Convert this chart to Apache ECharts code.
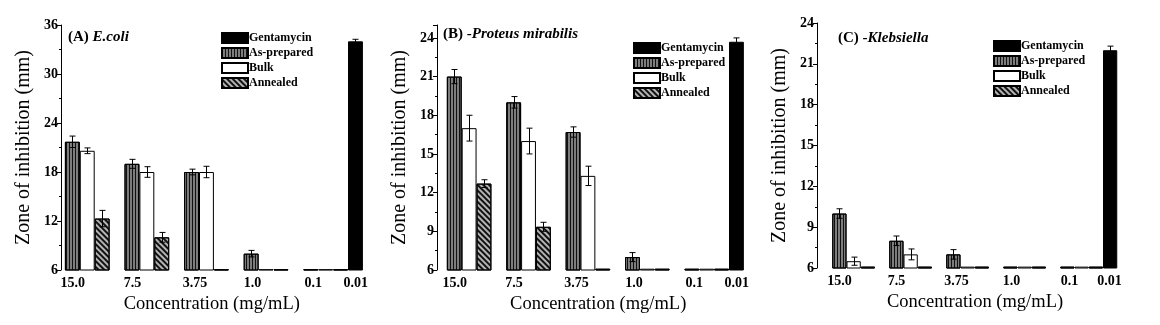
<!DOCTYPE html>
<html>
<head>
<meta charset="utf-8">
<script src="https://cdn.jsdelivr.net/npm/echarts@6/dist/echarts.min.js"></script>
<style>
  html, body { margin: 0; padding: 0; background: #fff; }
  #main1 { width: 1160px; height: 325px; }
</style>
</head>
<body>
<div id="main1"></div>
<script>
const categories = ['15.0', '7.5', '3.75', '1.0', '0.1', '0.01'];
const seriesNames = ['Gentamycin', 'As-prepared', 'Bulk', 'Annealed'];

// (A) E.coli
const gentA = [null, null, null, null, null, 34.0];
const asPreparedA = [21.7, 19.0, 18.0, 8.0, 6.1, null];
const bulkA = [20.6, 18.0, 18.0, 6.1, 6.1, null];
const annealedA = [12.3, 10.0, 6.1, 6.1, 6.1, null];
const gentErrA = [0, 0, 0, 0, 0, 0.25];
const asPreparedErrA = [0.7, 0.55, 0.35, 0.4, 0, 0];
const bulkErrA = [0.35, 0.65, 0.7, 0, 0, 0];
const annealedErrA = [1.0, 0.6, 0, 0, 0, 0];

// (B) Proteus mirabilis
const gentB = [null, null, null, null, null, 23.7];
const asPreparedB = [21.0, 19.0, 16.7, 7.0, 6.1, null];
const bulkB = [17.0, 16.0, 13.3, 6.1, 6.1, null];
const annealedB = [12.7, 9.35, 6.1, 6.1, 6.1, null];
const gentErrB = [0, 0, 0, 0, 0, 0.3];
const asPreparedErrB = [0.55, 0.45, 0.4, 0.35, 0, 0];
const bulkErrB = [1.0, 1.0, 0.75, 0, 0, 0];
const annealedErrB = [0.3, 0.35, 0, 0, 0, 0];

// (C) Klebsiella
const gentC = [null, null, null, null, null, 22.0];
const asPreparedC = [10.0, 8.0, 7.0, 6.1, 6.1, null];
const bulkC = [6.5, 7.0, 6.1, 6.1, 6.1, null];
const annealedC = [6.1, 6.1, 6.1, 6.1, 6.1, null];
const gentErrC = [0, 0, 0, 0, 0, 0.3];
const asPreparedErrC = [0.35, 0.35, 0.35, 0, 0, 0];
const bulkErrC = [0.3, 0.4, 0, 0, 0, 0];
const annealedErrC = [0, 0, 0, 0, 0, 0];

// y axis ranges
const yMaxes = [36, 25, 24];
const yIntervals = [6, 3, 3];

const FONT = 'Liberation Serif';

// layout of each panel (px)
const panels = [
    { values: [gentA, asPreparedA, bulkA, annealedA], errs: [gentErrA, asPreparedErrA, bulkErrA, annealedErrA],
      left: 50, top: 25, width: 357.6, axisX: 61, nameShift: 34,
      title: '{n|(A) }{i|E.coli}', titleLeft: 63, titleTop: 25, legendLeft: 216, legendTop: 27 },
    { values: [gentB, asPreparedB, bulkB, annealedB], errs: [gentErrB, asPreparedErrB, bulkErrB, annealedErrB],
      left: 432, top: 25, width: 356.4, axisX: 437, nameShift: 24,
      title: '{n|(B) -}{i|Proteus mirabilis}', titleLeft: 438, titleTop: 22, legendLeft: 628, legendTop: 37 },
    { values: [gentC, asPreparedC, bulkC, annealedC], errs: [gentErrC, asPreparedErrC, bulkErrC, annealedErrC],
      left: 818, top: 23, width: 342, axisX: 817, nameShift: 28,
      title: '{n|(C) -}{i|Klebsiella}', titleLeft: 833, titleTop: 26, legendLeft: 988, legendTop: 35 }
];

// label shifts under the groups (px, negative = left)
const labelShift = [-7, -7, -4, -6, -5, -22];

const barStyles = [
    { color: '#000', borderColor: '#000', borderWidth: 1 },
    { color: '#7d7d7d', borderColor: '#000', borderWidth: 1,
      decal: { symbol: 'rect', symbolSize: 1, color: '#111', dashArrayX: [1, 2], dashArrayY: [4, 0], rotation: 0 } },
    { color: '#fff', borderColor: '#000', borderWidth: 1 },
    { color: '#b4b4b4', borderColor: '#000', borderWidth: 1,
      decal: { symbol: 'rect', symbolSize: 1, color: '#111', dashArrayX: [4, 0], dashArrayY: [1.5, 1.5], rotation: Math.PI / 4 } }
];

function renderErr(params, api) {
    const cat = api.value(0);
    const val = api.value(1);
    const err = api.value(2);
    const slot = api.value(3);
    const band = api.size([1, 0])[0];
    const dx = (slot - 1.5) * band / 4;
    const hi = api.coord([cat, val + err]);
    const lo = api.coord([cat, val - err]);
    const x = Math.round(hi[0] + dx) + 0.5;
    const cap = 3;
    const st = { stroke: '#000', lineWidth: 1 };
    return {
        type: 'group',
        children: [
            { type: 'line', shape: { x1: x, y1: hi[1], x2: x, y2: lo[1] }, style: st },
            { type: 'line', shape: { x1: x - cap, y1: hi[1], x2: x + cap, y2: hi[1] }, style: st },
            { type: 'line', shape: { x1: x - cap, y1: lo[1], x2: x + cap, y2: lo[1] }, style: st }
        ]
    };
}

const richLabels = {};
labelShift.forEach(function (s, i) {
    richLabels['l' + i] = { fontFamily: FONT, fontWeight: 'bold', fontSize: 14, color: '#000', padding: [0, -2 * s, 0, 0] };
});

let optionObj = {
    animation: false,
    backgroundColor: '#fff',
    title: [],
    legend: [],
    grid: [],
    xAxis: [],
    yAxis: [],
    series: []
};

panels.forEach(function (p, k) {
    optionObj.grid.push({ left: p.left, top: p.top, width: p.width, height: 245, outerBoundsMode: 'none', containLabel: false });
    optionObj.title.push({
        left: p.titleLeft, top: p.titleTop, text: p.title,
        textStyle: {
            rich: {
                n: { fontFamily: FONT, fontWeight: 'bold', fontSize: 15, color: '#000' },
                i: { fontFamily: FONT, fontWeight: 'bold', fontStyle: 'italic', fontSize: 15, color: '#000' }
            }
        }
    });
    optionObj.legend.push({
        data: seriesNames, orient: 'vertical', left: p.legendLeft, top: p.legendTop,
        icon: 'rect', itemWidth: 26, itemHeight: 10, itemGap: 3,
        selectedMode: false,
        textStyle: { fontFamily: FONT, fontWeight: 'bold', fontSize: 12, color: '#000', lineHeight: 11, padding: [0, 0, 0, -4] }
    });
    optionObj.xAxis.push({
        type: 'category', gridIndex: k, data: categories,
        axisLine: { show: false }, axisTick: { show: false },
        axisLabel: {
            interval: 0,
            margin: 6,
            formatter: function (v, i) { return '{l' + i + '|' + v + '}'; },
            rich: richLabels
        },
        name: 'Concentration (mg/mL)', nameLocation: 'middle', nameGap: 22,
        nameTextStyle: { fontFamily: FONT, fontSize: 18.5, color: '#000', padding: [0, p.nameShift, 0, 0] }
    });
    optionObj.yAxis.push({
        type: 'value', gridIndex: k, min: 6, max: yMaxes[k], interval: yIntervals[k],
        offset: p.left - p.axisX,
        axisLine: { show: true, lineStyle: { color: '#000', width: 1 } },
        axisTick: { show: true, length: 4, lineStyle: { color: '#000' } },
        minorTick: { show: true, splitNumber: 2, length: 2, lineStyle: { color: '#000' } },
        splitLine: { show: false },
        axisLabel: {
            margin: 3, fontFamily: FONT, fontWeight: 'bold', fontSize: 14, color: '#000',
            formatter: function (v) { return (v - 6) % yIntervals[k] === 0 ? String(v) : ''; }
        },
        name: 'Zone of inhibition (mm)', nameLocation: 'middle', nameGap: 27,
        nameTextStyle: { fontFamily: FONT, fontSize: 20, color: '#000' }
    });

    const errData = [];
    p.values.forEach(function (vals, s) {
        optionObj.series.push({
            type: 'bar', name: seriesNames[s], xAxisIndex: k, yAxisIndex: k,
            data: vals, barGap: '0%', barCategoryGap: '0%',
            itemStyle: barStyles[s], clip: true
        });
        vals.forEach(function (v, c) {
            if (v !== null && p.errs[s][c] > 0) errData.push([c, v, p.errs[s][c], s]);
        });
    });
    optionObj.series.push({
        type: 'custom', xAxisIndex: k, yAxisIndex: k, renderItem: renderErr,
        encode: { x: 0, y: 1 }, data: errData, z: 5, silent: true
    });
});

function createGraph() {
    let chartDom = document.getElementById('main1');
    let myChart = echarts.init(chartDom);
    myChart.setOption(optionObj);
}

createGraph();
</script>
</body>
</html>
